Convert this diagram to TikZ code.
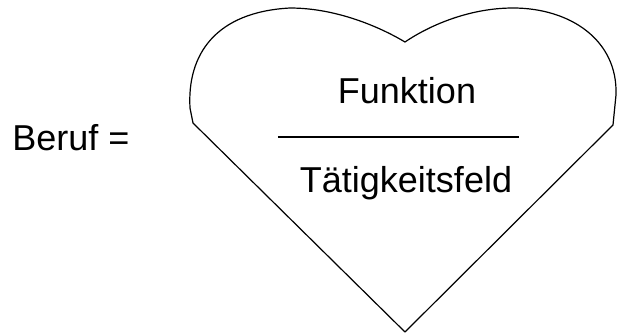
\documentclass[tikz,border=0pt]{standalone}
\usepackage{fontspec}
\setmainfont{Liberation Sans}
\usepackage{tikz}
\usetikzlibrary{positioning, calc}
\definecolor{mydark}{RGB}{0,0,0}
\tikzset{
  word/.style={font=\fontsize{18}{22}\selectfont, inner sep=0pt, anchor=base, color=mydark},
  outline/.style={line width=0.6pt, color=mydark, line join=round},
  fracline/.style={line width=0.7pt, color=mydark}
}
\begin{document}
\begin{tikzpicture}[x=0.5pt, y=-0.5pt]
  \useasboundingbox (0,0) rectangle (618,333);

  % heart
  \coordinate (tip) at (405,332);
  \coordinate (lcorner) at (193,123);
  \coordinate (dip) at (405,42);
  \coordinate (rcorner) at (613,125);
  \draw[outline] (tip) -- (lcorner) -- (190,108)
    .. controls (187,55) and (215,12) .. (290,8)
    .. controls (340,8) and (385,30) .. (dip)
    .. controls (430,25) and (470,8) .. (513,8)
    .. controls (570,8) and (618,40) .. (616,95)
    -- (rcorner) -- cycle;

  \node[word, anchor=base west] (beruf) at (12,150) {Beruf =};
  \node[word] (funktion) at (407,103) {Funktion};
  \node[word] (feld) at (406,192) {Tätigkeitsfeld};

  \coordinate (barL) at (278,137);
  \coordinate (barR) at (519,137);
  \draw[fracline] (barL) -- (barR);
\end{tikzpicture}
\end{document}
